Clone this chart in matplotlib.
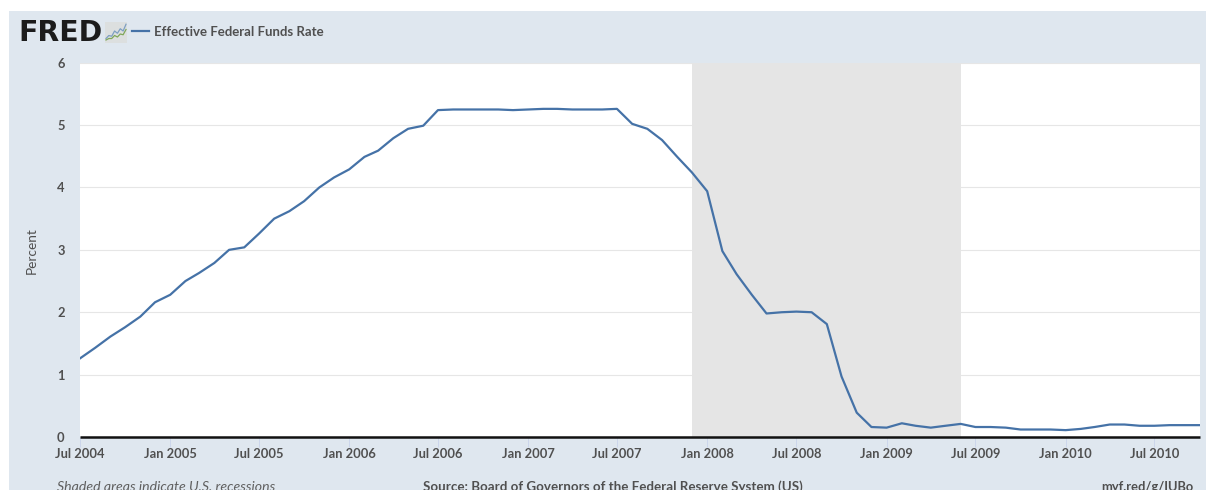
import pandas as pd
import numpy as np
import matplotlib
matplotlib.use("Agg")
import matplotlib.pyplot as plt
from matplotlib.patches import Rectangle

plt.rcParams['font.family'] = ['Lato', 'DejaVu Sans']

# monthly values, Jul 2004 - Oct 2010
start_month = "2004-07-01"
rate = [1.26, 1.43, 1.61, 1.76, 1.93, 2.16, 2.28, 2.50, 2.63, 2.79, 3.00, 3.04,
        3.26, 3.50, 3.62, 3.78, 4.00, 4.16, 4.29, 4.49, 4.59, 4.79, 4.94, 4.99,
        5.24, 5.25, 5.25, 5.25, 5.25, 5.24, 5.25, 5.26, 5.26, 5.25, 5.25, 5.25,
        5.26, 5.02, 4.94, 4.76, 4.49, 4.24, 3.94, 2.98, 2.61, 2.28, 1.98, 2.00,
        2.01, 2.00, 1.81, 0.97, 0.39, 0.16, 0.15, 0.22, 0.18, 0.15, 0.18, 0.21,
        0.16, 0.16, 0.15, 0.12, 0.12, 0.12, 0.11, 0.13, 0.16, 0.20, 0.20, 0.18,
        0.18, 0.19, 0.19, 0.19]
recession = ["2007-12-01", "2009-06-01"]
tick_dates = ["2004-07-01", "2005-01-01", "2005-07-01", "2006-01-01", "2006-07-01",
              "2007-01-01", "2007-07-01", "2008-01-01", "2008-07-01", "2009-01-01",
              "2009-07-01", "2010-01-01", "2010-07-01"]
tick_labels = ["Jul 2004", "Jan 2005", "Jul 2005", "Jan 2006", "Jul 2006",
               "Jan 2007", "Jul 2007", "Jan 2008", "Jul 2008", "Jan 2009",
               "Jul 2009", "Jan 2010", "Jul 2010"]
y_ticks = [0, 1, 2, 3, 4, 5, 6]

# little logo chart
icon_blue = [0, 2, 1.5, 5, 3.5, 6.5, 5, 9.5]
icon_green = [-1, 0, 0, 2, 1, 3, 2.5, 6]

W, H = 1206, 490
PANEL = "#dfe7ef"
LINE = "#4572a7"
TEXT = "#505050"

dates = pd.date_range(start_month, periods=len(rate), freq="MS")

fig = plt.figure(figsize=(W / 100, H / 100), dpi=100)
fig.patches.append(Rectangle((9 / W, 0), (W - 9) / W, 1 - 11 / H, transform=fig.transFigure,
                             color=PANEL, lw=0, zorder=-5))

ax = fig.add_axes([80 / W, 1 - 437 / H, 1119.5 / W, 374.3 / H])
ax.axvspan(pd.Timestamp(recession[0]), pd.Timestamp(recession[1]), color="#e5e5e5", lw=0, zorder=1)
ax.plot(dates, rate, color=LINE, lw=1.6, zorder=3)
ax.axhline(0, color="#111111", lw=1.8, zorder=4, clip_on=False, solid_capstyle="butt")

ax.set_xlim(dates[0], dates[-1])
ax.set_ylim(0, 6)
ax.set_yticks(y_ticks)
ax.set_xticks(pd.to_datetime(tick_dates))
ax.set_xticklabels(tick_labels)
ax.grid(axis="y", color="#e6e6e6", lw=0.8, zorder=0)
ax.set_axisbelow(True)
for s in ax.spines.values():
    s.set_visible(False)
ax.tick_params(axis="y", length=0, pad=11, labelsize=9.3, labelcolor=TEXT)
ax.tick_params(axis="x", length=7, width=0.7, color="#ccd6eb", pad=1, labelsize=9.3, labelcolor=TEXT)
for lab in ax.get_xticklabels() + ax.get_yticklabels():
    lab.set_fontweight("bold")

fig.text(31.5 / W, 1 - 250.5 / H, "Percent", rotation=90, ha="center", va="center", fontsize=9.8, color=TEXT)

# header
fig.text(18 / W, 1 - 33 / H, "FRED", ha="left", va="center", fontsize=20.4, fontweight="bold",
         family="DejaVu Sans", color="#1c1c1c")
icon = fig.add_axes([105 / W, 1 - 43 / H, 22 / W, 21 / H])
icon.set_facecolor("#dcdfdf")
icon.plot(icon_blue, color="#7d9fc2", lw=0.9)
icon.plot(icon_green, color="#7fa75a", lw=0.9)
icon.set_xticks([])
icon.set_yticks([])
icon.set_ylim(-3, 11)
for s in icon.spines.values():
    s.set_visible(False)
fig.add_artist(plt.Line2D([132 / W, 149 / W], [1 - 31.5 / H, 1 - 31.5 / H], color=LINE, lw=1.6))
fig.text(154.5 / W, 1 - 32 / H, "Effective Federal Funds Rate", ha="left", va="center",
         fontsize=9.5, fontweight="bold", color=TEXT)

# footer, runs off the bottom like the original
fig.text(57 / W, 1 - 487 / H, "Shaded areas indicate U.S. recessions", ha="left", va="center",
         fontsize=10.2, style="italic", color="#606060")
fig.text(613 / W, 1 - 487 / H, "Source: Board of Governors of the Federal Reserve System (US)", ha="center",
         va="center", fontsize=9.6, fontweight="bold", color=TEXT)
fig.text(1194 / W, 1 - 487 / H, "myf.red/g/IUBo", ha="right", va="center", fontsize=9.3,
         fontweight="bold", color=TEXT)

fig.savefig("out.png", dpi=100)
